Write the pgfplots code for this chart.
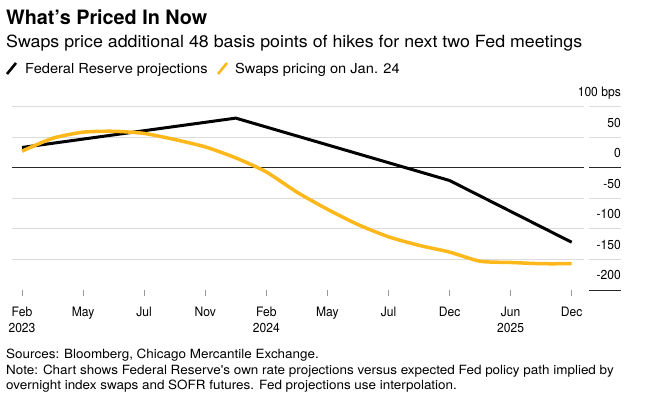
\documentclass[border=0pt]{standalone}
\usepackage{pgfplots}
\pgfplotsset{compat=1.18}
\usepackage{fontspec}
\setmainfont{TeX Gyre Heros}
\newfontfamily\narrowfont[FakeStretch=0.93]{TeX Gyre Heros}
\newfontfamily\widefont[FakeStretch=1.06]{TeX Gyre Heros}
\definecolor{swapy}{RGB}{255,184,28}
\definecolor{gridc}{RGB}{220,220,220}
\definecolor{zeroc}{RGB}{40,40,40}
\begin{document}
\begin{tikzpicture}[x=1pt,y=1pt]
\useasboundingbox (0,0) rectangle (648,409);
% titles
\node[anchor=base west, inner sep=0pt, font=\bfseries\fontsize{19.8}{22}\selectfont] at (6,384) {What's Priced In Now};
\node[anchor=base west, inner sep=0pt, font=\widefont\fontsize{16.8}{19}\selectfont] at (6,361) {Swaps price additional 48 basis points of hikes for next two Fed meetings};
% legend
\draw[black, line width=2.6pt] (7,335) -- (16,346);
\node[anchor=base west, inner sep=0pt, font=\widefont\fontsize{13.8}{16}\selectfont] at (25,335) {Federal Reserve projections};
\draw[swapy, line width=2.6pt] (218,335) -- (227,346);
\node[anchor=base west, inner sep=0pt, font=\widefont\fontsize{13.8}{16}\selectfont] at (235,335) {Swaps pricing on Jan. 24};
\begin{axis}[
    at={(12pt,119pt)}, anchor=south west,
    scale only axis, width=609pt, height=183.5pt,
    xmin=-0.1637, xmax=9.8069,
    ymin=-200, ymax=100,
    axis line style={draw=none},
    clip=false,
    xtick={0,...,9},
    xticklabels={Feb\\2023,May,Jul,Nov,Feb\\2024,May,Jul,Dec,Jun\\2025,Dec},
    xtick pos=bottom, tick align=outside,
    major tick length=6pt,
    x tick style={draw=gray!80, line width=0.8pt},
    x tick label style={align=center, font=\narrowfont\fontsize{13}{16}\selectfont, yshift=-7pt},
    ytick={-200,-150,...,100},
    yticklabels={-200,-150,-100,-50,0,50,100 bps},
    yticklabel pos=right,
    y tick style={draw=none},
    y tick label style={anchor=base east, inner sep=0pt, xshift=-6pt, yshift=10pt, font=\narrowfont\fontsize{13}{15}\selectfont},
]
% grid in plot area
\draw[gridc, line width=1pt] (axis cs:-0.1637,100) -- (axis cs:9.197,100);
\draw[gridc, line width=1pt] (axis cs:-0.1637,50) -- (axis cs:9.197,50);
\draw[gridc, line width=1pt] (axis cs:-0.1637,-50) -- (axis cs:9.197,-50);
\draw[gridc, line width=1pt] (axis cs:-0.1637,-100) -- (axis cs:9.197,-100);
\draw[gridc, line width=1pt] (axis cs:-0.1637,-150) -- (axis cs:9.197,-150);
\draw[zeroc, line width=0.9pt] (axis cs:-0.1637,0) -- (axis cs:9.197,0);
% grid in label area
\draw[gridc, line width=1pt] (axis cs:9.28,100) -- (axis cs:9.8069,100);
\draw[gridc, line width=1pt] (axis cs:9.28,50) -- (axis cs:9.8069,50);
\draw[gridc, line width=1pt] (axis cs:9.28,-50) -- (axis cs:9.8069,-50);
\draw[gridc, line width=1pt] (axis cs:9.28,-100) -- (axis cs:9.8069,-100);
\draw[gridc, line width=1pt] (axis cs:9.28,-150) -- (axis cs:9.8069,-150);
\draw[zeroc, line width=0.9pt] (axis cs:9.28,0) -- (axis cs:9.8069,0);
\draw[zeroc, line width=0.9pt] (axis cs:9.28,-200) -- (axis cs:9.8069,-200);
% Federal Reserve projections
\addplot[black, line width=3pt, line join=round] coordinates {
    (0,33) (3.5,81) (7,-21) (9,-122)
};
% Swaps pricing on Jan. 24
\addplot[swapy, line width=3.5pt, line join=round, smooth, tension=0.4] coordinates {
    (0,27) (0.5,48) (1,58) (1.5,59.5) (2,56) (2.5,46) (3,34) (3.5,16)
    (4,-7) (4.5,-40) (5,-68) (5.5,-93) (6,-113) (6.5,-127) (7,-138)
    (7.5,-153) (8,-155) (8.5,-157) (9,-157)
};
\end{axis}
% footnotes
\node[anchor=base west, inner sep=0pt, font=\widefont\fontsize{12.7}{14}\selectfont] at (6,50) {Sources: Bloomberg, Chicago Mercantile Exchange.};
\node[anchor=base west, inner sep=0pt, font=\widefont\fontsize{12.7}{14}\selectfont] at (6,34) {Note: Chart shows Federal Reserve's own rate projections versus expected Fed policy path implied by};
\node[anchor=base west, inner sep=0pt, font=\widefont\fontsize{12.7}{14}\selectfont] at (6,19) {overnight index swaps and SOFR futures. Fed projections use interpolation.};
\end{tikzpicture}
\end{document}
